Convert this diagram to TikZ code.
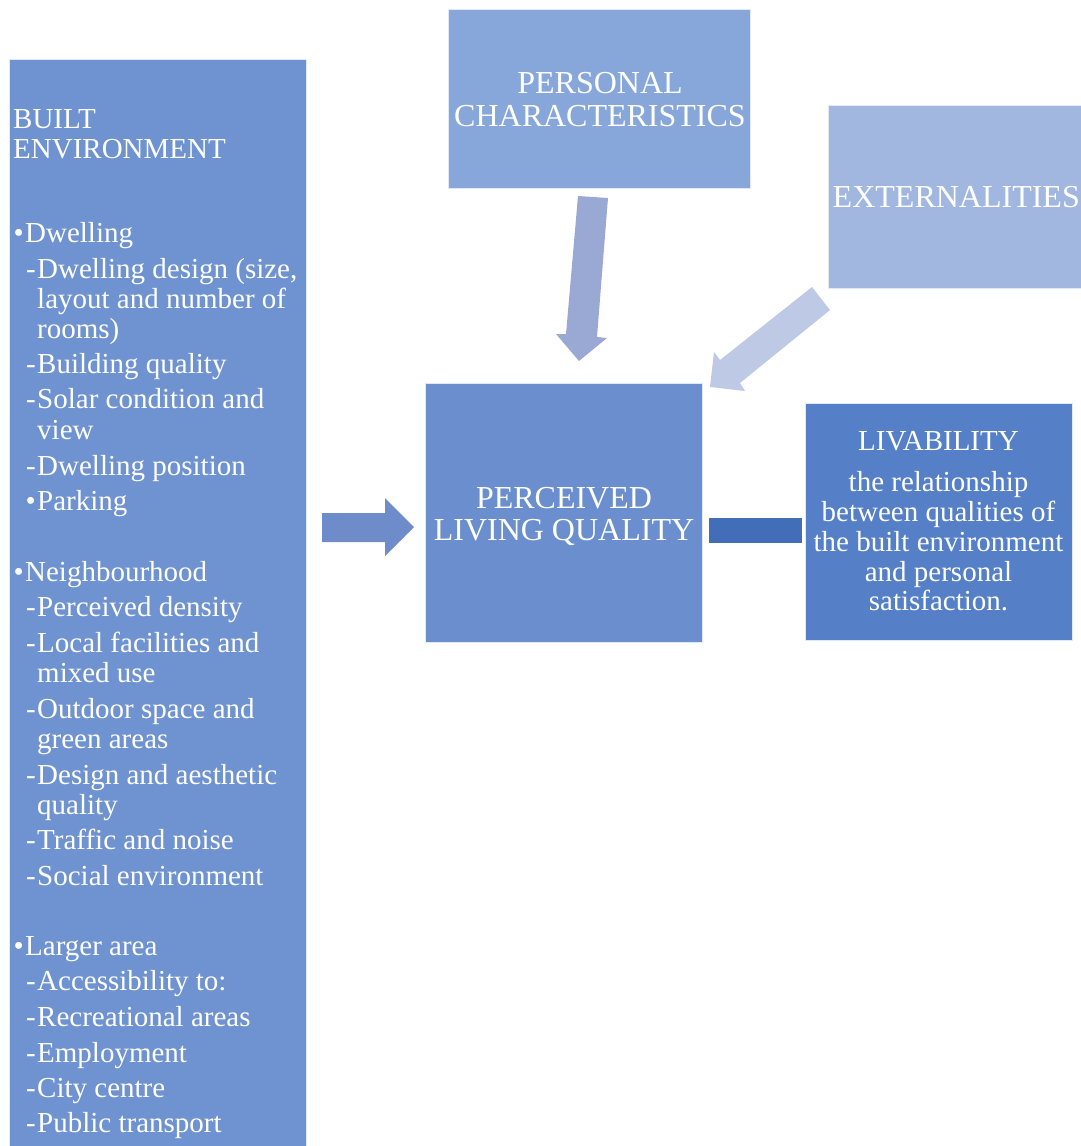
\documentclass[tikz,border=0pt]{standalone}
\usepackage{fontspec}
\setmainfont{Liberation Serif}
\definecolor{cLeft}{HTML}{6F93D0}
\definecolor{cPers}{HTML}{87A6D9}
\definecolor{cExt}{HTML}{A2B7E0}
\definecolor{cPLQ}{HTML}{6A8ECE}
\definecolor{cLiv}{HTML}{5580C8}
\definecolor{cArrL}{HTML}{6E8BCA}
\definecolor{cArrD}{HTML}{99A9D4}
\definecolor{cArrX}{HTML}{BDC9E5}
\definecolor{cConn}{HTML}{416DB9}
\newcommand{\bul}{\makebox[11.5pt][l]{•}}
\newcommand{\dsh}{\makebox[11pt][l]{-}}
\begin{document}
\begin{tikzpicture}[x=1pt,y=-1pt,
  box/.style={draw=white!80!cLeft, line width=0.8pt, inner sep=0, anchor=north west},
  lt/.style={text=white, font=\fontsize{29}{30}\selectfont, inner sep=0, anchor=base west},
  ct/.style={text=white, font=\fontsize{29}{30}\selectfont, inner sep=0, anchor=base},
  bt/.style={text=white, font=\fontsize{32}{33}\selectfont, inner sep=0, anchor=base}]
\useasboundingbox (0,0) rectangle (1081,1146);
\clip (0,0) rectangle (1081,1146);
% boxes
\node[box, fill=cLeft, minimum width=297pt, minimum height=1100pt] (built) at (9,59) {};
\node[box, fill=cPers, minimum width=302pt, minimum height=179pt] (pers) at (448,9) {};
\node[box, fill=cExt, minimum width=285pt, minimum height=183pt] (ext) at (828,105) {};
\node[box, fill=cPLQ, minimum width=277pt, minimum height=259pt] (plq) at (425,383) {};
\node[box, fill=cLiv, minimum width=267pt, minimum height=237pt] (liv) at (805,403) {};
% arrows
\fill[cArrL] (322,513) -- (385,513) -- (385,498) -- (414,527) -- (385,556) -- (385,542) -- (322,542) -- cycle;
\fill[cArrD] (578,196) -- (608,198) -- (597,337) -- (607,338) -- (579,361) -- (556,334) -- (566,334) -- cycle;
\fill[cArrX] (812,287) -- (830,310) -- (740,383) -- (745,391) -- (710,387) -- (714,352) -- (720,360) -- cycle;
\fill[cConn] (709,518) rectangle (802,543);
% top boxes text
\node[bt] (p1) at (600,93) {PERSONAL};
\node[bt] (p2) at (600,126) {CHARACTERISTICS};
\node[bt, anchor=base east] (e1) at (1080,207) {EXTERNALITIES};
\node[bt] (q1) at (564,508) {PERCEIVED};
\node[bt] (q2) at (564,540) {LIVING QUALITY};
% livability text
\node[ct] (l0) at (938.5,450) {LIVABILITY};
\node[ct] (l1) at (938.5,491) {the relationship};
\node[ct] (l2) at (938.5,521) {between qualities of};
\node[ct] (l3) at (938.5,551) {the built environment};
\node[ct] (l4) at (938.5,581) {and personal};
\node[ct] (l5) at (938.5,610) {satisfaction.};
% built environment text
\node[lt] (b1) at (13,128) {BUILT};
\node[lt] (b2) at (13,158) {ENVIRONMENT};
\node[lt] (d0) at (13.5,242) {\bul Dwelling};
\node[lt] (d1) at (26,278) {\dsh Dwelling design (size,};
\node[lt] (d1b) at (37,308) {layout and number of};
\node[lt] (d1c) at (37,338) {rooms)};
\node[lt] (d2) at (26,373) {\dsh Building quality};
\node[lt] (d3) at (26,408) {\dsh Solar condition and};
\node[lt] (d3b) at (37,439) {view};
\node[lt] (d4) at (26,475) {\dsh Dwelling position};
\node[lt] (d5) at (25.5,510) {\bul Parking};
\node[lt] (n0) at (13.5,581) {\bul Neighbourhood};
\node[lt] (n1) at (26,616) {\dsh Perceived density};
\node[lt] (n2) at (26,652) {\dsh Local facilities and};
\node[lt] (n2b) at (37,682) {mixed use};
\node[lt] (n3) at (26,718) {\dsh Outdoor space and};
\node[lt] (n3b) at (37,748) {green areas};
\node[lt] (n4) at (26,784) {\dsh Design and aesthetic};
\node[lt] (n4b) at (37,814) {quality};
\node[lt] (n5) at (26,849) {\dsh Traffic and noise};
\node[lt] (n6) at (26,885) {\dsh Social environment};
\node[lt] (a0) at (13.5,955) {\bul Larger area};
\node[lt] (a1) at (26,990) {\dsh Accessibility to:};
\node[lt] (a2) at (26,1026) {\dsh Recreational areas};
\node[lt] (a3) at (26,1062) {\dsh Employment};
\node[lt] (a4) at (26,1097) {\dsh City centre};
\node[lt] (a5) at (26,1132) {\dsh Public transport};
\end{tikzpicture}
\end{document}
